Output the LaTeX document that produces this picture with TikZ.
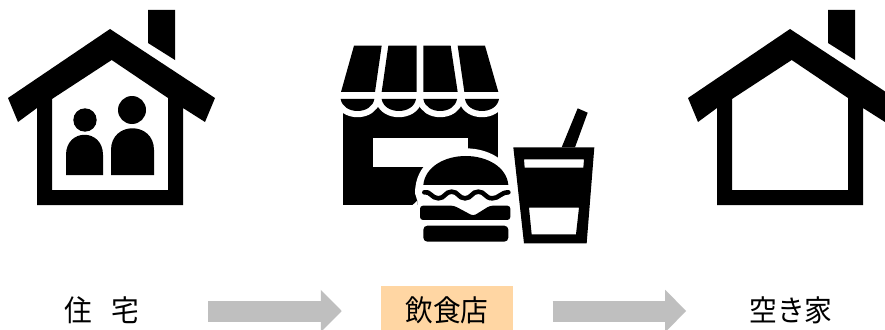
\documentclass[tikz,border=0pt]{standalone}
\usepackage{fontspec}
\setmainfont{Noto Sans CJK JP}
\newfontfamily\labelfont[FakeStretch=0.94]{Noto Sans CJK JP}
\usetikzlibrary{arrows.meta}
\definecolor{arrowgray}{HTML}{BFBFBF}
\definecolor{shopfill}{HTML}{FFD6A3}
\tikzset{
  label text/.style={inner xsep=0pt,inner ysep=11pt,text height=24pt,text depth=4pt,font=\labelfont\fontsize{29.5pt}{30pt}\selectfont,text=black},
  flow/.style={draw=arrowgray,line width=21pt,-{Triangle[length=21pt,width=41pt,fill=arrowgray]}},
  houseicon/.pic={
    \fill[black,even odd rule] (110,29) -- (215,98) -- (205,122) -- (183,108) -- (183,205) -- (37,205) -- (37,108) -- (18,122) -- (8,98) -- cycle
      (111.7,60) -- (168,98) -- (168,190) -- (52,190) -- (52,99) -- cycle;
    \fill[black] (148,10) -- (175,10) -- (175,60) -- (148,43) -- cycle;
  }
}
\begin{document}
\begin{tikzpicture}[x=1pt,y=-1pt]
\clip (0,0) rectangle (885,329);
\fill[white] (0,0) rectangle (885,329);
% houses
\pic at (0,0) {houseicon};
\pic at (680,0) {houseicon};
% people
\fill[black] (85,120) circle (11.7);
\fill[black] (132,110) circle (14);
\fill[black] (66,175) -- (66,155) .. controls (66,128) and (103,128) .. (103,155) -- (103,175) -- cycle;
\fill[black] (111,175) -- (111,150) .. controls (111,121) and (154,121) .. (154,150) -- (154,175) -- cycle;
% shop, burger and drink
\begin{scope}[shift={(330,30)},x=0.33333pt,y=-0.33333pt]
  % building
  \fill[black] (40,215) rectangle (505,525);
  \fill[white] (130,323) rectangle (415,412);
  % awning
  \fill[white] (25,190) rectangle (515,207);
  \foreach \a/\b in {32/133,155/258,280/381,405/507}{
    \draw[white,line width=12.4pt,line join=round] (\a,207) .. controls (\a+8,255) and (\b-8,255) .. (\b,207) -- cycle;
  }
  \foreach \a/\b in {32/133,155/258,280/381,405/507}{
    \fill[black] (\a,207) .. controls (\a+8,255) and (\b-8,255) .. (\b,207) -- cycle;
  }
  \fill[black] (72,47) -- (155,47) -- (135,186) -- (33,186) -- cycle;
  \fill[black] (175,47) -- (260,47) -- (260,186) -- (155,186) -- cycle;
  \fill[black] (280,47) -- (362,47) -- (383,186) -- (280,186) -- cycle;
  \fill[black] (383,47) -- (465,47) -- (505,186) -- (403,186) -- cycle;
  % burger halo
  \fill[white] (255,490) .. controls (255,400) and (330,355) .. (407,355) .. controls (484,355) and (559,400) .. (559,490) -- (559,650) -- (262,650) -- (262,512) -- cycle;
  \fill[white] (248,525) -- (262,512) -- (262,530) -- cycle;
  % burger
  \fill[black] (280,465) .. controls (285,410) and (345,378) .. (407,378) .. controls (470,378) and (530,410) .. (535,465) -- cycle;
  \draw[black,line width=4.6pt,line cap=round] (283,487) .. controls (300,482) and (305,505) .. (325,505) .. controls (345,505) and (345,485) .. (365,485) .. controls (385,485) and (385,505) .. (405,505) .. controls (425,505) and (425,485) .. (445,485) .. controls (465,485) and (465,505) .. (487,505) .. controls (507,505) and (512,487) .. (535,487);
  \fill[black,rounded corners=3pt] (270,570) -- (270,527) -- (372,527) -- (430,558) -- (480,527) -- (541,527) -- (541,570) -- cycle;
  \fill[black,rounded corners=4pt] (280,587) -- (535,587) -- (535,635) -- (280,635) -- cycle;
  % drink
  \fill[black] (695,352) -- (743,235) -- (773,248) -- (735,352) -- cycle;
  \fill[black,even odd rule] (550,352) -- (793,352) -- (770,640) -- (582,640) -- cycle
    (582,388) -- (762,388) -- (760,413) -- (584,413) -- cycle
    (597,533) -- (747,533) -- (738,613) -- (605,613) -- cycle;
\end{scope}
% labels
\node[label text] (home) at (102,311) {住\hspace{19pt}宅};
\node[label text,fill=shopfill,minimum width=132pt] (shop) at (447,311) {飲食店};
\node[label text] (vacant) at (791,311) {空き家};
% flow arrows
\draw[flow,shorten <=69pt,shorten >=39pt] (home.east) -- (shop.west);
\draw[flow,shorten <=39.5pt,shorten >=63pt] (shop.east) -- (vacant.west);
\end{tikzpicture}
\end{document}
